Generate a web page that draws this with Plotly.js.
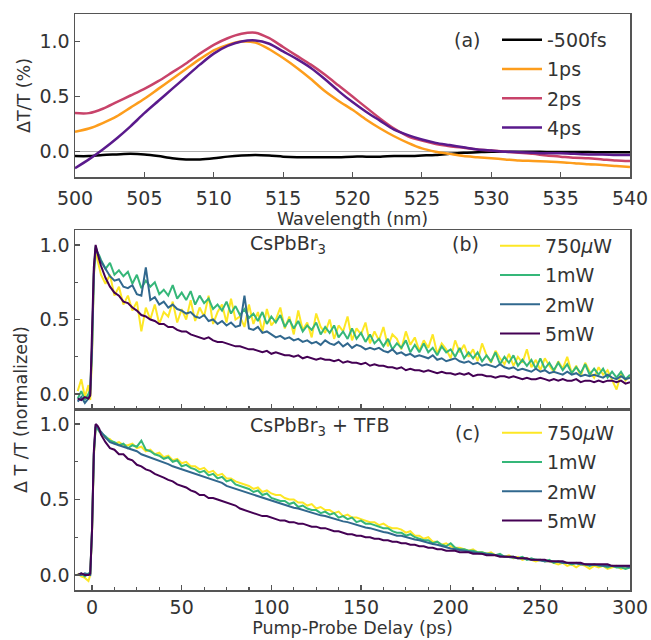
<!DOCTYPE html>
<html><head><meta charset="utf-8">
<script src="https://cdn.plot.ly/plotly-3.0.1.min.js"></script>
<style>html,body{margin:0;padding:0;background:#fff}</style>
</head><body><div id="chart" style="width:651px;height:640px"></div>
<script>
// ---------- Panel (a): spectra ----------
const wavelength = [500,501,502,503,504,505,506,507,508,509,
  510,511,512,513,514,515,516,517,518,519,
  520,521,522,523,524,525,526,527,528,529,
  530,531,532,533,534,535,536,537,538,539,540];
const dt_m500fs = [-0.04,-0.04,-0.03,-0.025,-0.02,-0.025,-0.04,-0.06,-0.07,-0.07,
  -0.06,-0.045,-0.035,-0.03,-0.035,-0.045,-0.05,-0.05,-0.05,-0.05,
  -0.045,-0.045,-0.045,-0.04,-0.04,-0.035,-0.03,-0.02,-0.01,-0.005,
  0.0,0.0,0.0,0.0,-0.002,-0.003,-0.004,-0.004,-0.005,-0.005,-0.005];
const dt_1ps = [0.18,0.21,0.26,0.32,0.40,0.48,0.57,0.66,0.75,0.84,
  0.92,0.97,1.0,0.99,0.93,0.85,0.76,0.66,0.55,0.46,
  0.38,0.29,0.21,0.14,0.08,0.03,0.0,-0.02,-0.04,-0.05,
  -0.06,-0.07,-0.08,-0.085,-0.09,-0.095,-0.105,-0.115,-0.12,-0.13,-0.14];
const dt_2ps = [0.35,0.35,0.39,0.45,0.51,0.57,0.64,0.72,0.80,0.89,
  0.97,1.03,1.07,1.08,1.03,0.95,0.87,0.79,0.70,0.60,
  0.50,0.40,0.30,0.21,0.14,0.10,0.07,0.05,0.035,0.02,
  0.01,0.0,-0.01,-0.02,-0.035,-0.045,-0.055,-0.06,-0.07,-0.08,-0.085];
const dt_4ps = [-0.15,-0.07,0.02,0.12,0.23,0.35,0.46,0.57,0.68,0.79,
  0.89,0.96,1.0,1.01,0.98,0.91,0.84,0.76,0.66,0.55,
  0.45,0.36,0.28,0.20,0.15,0.11,0.08,0.06,0.04,0.02,
  0.01,0.0,-0.005,-0.01,-0.015,-0.015,-0.02,-0.025,-0.025,-0.03,-0.03];
const spectraNames = ['-500fs','1ps','2ps','4ps'];

// ---------- Panels (b),(c): kinetics ----------
const delay = [-8,-6,-4,-2,-1,0,1,2,3,4,5,
  7.5,10,12.5,15,17.5,20,22.5,25,27.5,30,
  32.5,35,37.5,40,42.5,45,47.5,50,52.5,55,
  57.5,60,62.5,65,67.5,70,72.5,75,77.5,80,
  82.5,85,87.5,90,92.5,95,97.5,100,102.5,105,
  107.5,110,112.5,115,117.5,120,122.5,125,127.5,130,
  132.5,135,137.5,140,142.5,145,147.5,150,152.5,155,
  157.5,160,162.5,165,167.5,170,172.5,175,177.5,180,
  182.5,185,187.5,190,192.5,195,197.5,200,202.5,205,
  207.5,210,212.5,215,217.5,220,222.5,225,227.5,230,
  232.5,235,237.5,240,242.5,245,247.5,250,252.5,255,
  257.5,260,262.5,265,267.5,270,272.5,275,277.5,280,
  282.5,285,287.5,290,292.5,295,297.5,300];

const b_750uW = [0.02,0.10,-0.02,0.06,-0.04,0.25,0.78,0.97,0.90,0.85,0.80,
  0.74,0.80,0.66,0.72,0.60,0.66,0.56,0.62,0.42,0.58,
  0.50,0.60,0.47,0.55,0.52,0.62,0.48,0.57,0.50,0.63,
  0.49,0.58,0.52,0.66,0.47,0.55,0.60,0.48,0.64,0.50,
  0.52,0.45,0.60,0.47,0.55,0.42,0.57,0.46,0.50,0.58,
  0.44,0.52,0.40,0.56,0.43,0.48,0.38,0.54,0.45,0.41,
  0.50,0.37,0.46,0.42,0.52,0.36,0.44,0.40,0.48,0.34,
  0.42,0.36,0.45,0.32,0.40,0.37,0.30,0.42,0.33,0.38,
  0.29,0.36,0.31,0.40,0.27,0.34,0.30,0.24,0.36,0.28,
  0.33,0.25,0.30,0.22,0.34,0.26,0.21,0.29,0.24,0.20,
  0.27,0.19,0.25,0.21,0.30,0.18,0.23,0.16,0.24,0.19,
  0.15,0.22,0.17,0.25,0.14,0.19,0.12,0.21,0.15,0.11,
  0.18,0.13,0.16,0.10,0.03,0.14,0.09,0.12];
const b_1mW = [-0.03,0.02,-0.04,0.00,0.03,0.32,0.82,0.99,0.95,0.93,0.90,
  0.84,0.88,0.80,0.83,0.79,0.82,0.74,0.80,0.71,0.76,
  0.72,0.75,0.67,0.70,0.66,0.73,0.64,0.68,0.63,0.69,
  0.60,0.66,0.61,0.64,0.57,0.60,0.56,0.62,0.54,0.59,
  0.53,0.57,0.51,0.54,0.49,0.55,0.47,0.52,0.48,0.53,
  0.45,0.50,0.44,0.49,0.42,0.46,0.43,0.48,0.40,0.45,
  0.41,0.46,0.38,0.42,0.37,0.44,0.37,0.41,0.35,0.40,
  0.34,0.37,0.32,0.37,0.30,0.34,0.31,0.36,0.28,0.33,
  0.28,0.34,0.28,0.31,0.26,0.32,0.28,0.30,0.25,0.31,
  0.24,0.28,0.24,0.28,0.22,0.26,0.22,0.28,0.20,0.25,
  0.21,0.26,0.19,0.23,0.19,0.23,0.17,0.24,0.17,0.21,
  0.16,0.21,0.16,0.20,0.14,0.18,0.14,0.20,0.13,0.17,
  0.13,0.17,0.11,0.15,0.11,0.15,0.10,0.13];
const b_2mW = [-0.05,-0.02,-0.06,-0.03,0.00,0.30,0.80,0.98,0.95,0.92,0.89,
  0.84,0.79,0.76,0.77,0.72,0.71,0.73,0.67,0.66,0.85,
  0.63,0.65,0.60,0.62,0.58,0.60,0.57,0.56,0.54,0.55,
  0.52,0.51,0.53,0.49,0.50,0.47,0.49,0.46,0.48,0.45,
  0.46,0.66,0.44,0.43,0.45,0.41,0.42,0.40,0.38,0.39,
  0.37,0.38,0.36,0.37,0.35,0.36,0.34,0.35,0.33,0.36,
  0.34,0.33,0.35,0.32,0.34,0.31,0.33,0.32,0.30,0.31,
  0.30,0.31,0.29,0.28,0.30,0.27,0.28,0.26,0.27,0.25,
  0.26,0.25,0.24,0.26,0.23,0.24,0.22,0.23,0.24,0.22,
  0.21,0.22,0.20,0.21,0.19,0.20,0.19,0.18,0.20,0.18,
  0.17,0.18,0.16,0.17,0.16,0.15,0.17,0.15,0.16,0.14,
  0.15,0.14,0.13,0.15,0.13,0.14,0.12,0.13,0.12,0.13,
  0.12,0.11,0.13,0.11,0.10,0.12,0.10,0.11];
const b_5mW = [-0.03,-0.04,-0.02,-0.03,-0.01,0.35,0.85,1.00,0.94,0.90,0.86,
  0.78,0.72,0.68,0.66,0.62,0.61,0.58,0.56,0.53,0.52,
  0.50,0.49,0.47,0.47,0.45,0.45,0.43,0.42,0.42,0.40,
  0.39,0.38,0.37,0.38,0.36,0.35,0.35,0.34,0.33,0.32,
  0.32,0.31,0.30,0.30,0.29,0.28,0.29,0.27,0.28,0.27,
  0.26,0.26,0.25,0.26,0.24,0.25,0.24,0.23,0.24,0.23,
  0.23,0.22,0.23,0.21,0.22,0.21,0.21,0.20,0.21,0.19,
  0.20,0.19,0.19,0.18,0.18,0.17,0.18,0.16,0.17,0.16,
  0.16,0.15,0.16,0.15,0.14,0.15,0.14,0.14,0.13,0.14,
  0.13,0.14,0.12,0.13,0.13,0.12,0.12,0.11,0.12,0.12,
  0.11,0.12,0.11,0.10,0.11,0.10,0.10,0.11,0.10,0.09,
  0.10,0.09,0.10,0.09,0.09,0.10,0.08,0.09,0.09,0.08,
  0.09,0.08,0.09,0.09,0.08,0.09,0.07,0.08];

const c_750uW = [0.01,-0.01,-0.02,-0.04,0.00,0.28,0.78,0.98,0.97,0.96,0.94,
  0.91,0.90,0.87,0.88,0.86,0.86,0.87,0.84,0.85,0.82,
  0.83,0.80,0.81,0.78,0.79,0.76,0.77,0.74,0.75,0.72,
  0.72,0.70,0.71,0.68,0.69,0.66,0.67,0.64,0.64,0.62,
  0.61,0.60,0.59,0.57,0.58,0.55,0.56,0.54,0.53,0.53,
  0.51,0.50,0.50,0.48,0.48,0.46,0.47,0.44,0.45,0.43,
  0.43,0.41,0.42,0.39,0.40,0.38,0.38,0.37,0.36,0.35,
  0.35,0.33,0.34,0.32,0.31,0.31,0.30,0.28,0.29,0.26,
  0.26,0.24,0.25,0.22,0.22,0.20,0.21,0.19,0.18,0.18,
  0.17,0.16,0.17,0.15,0.15,0.14,0.15,0.13,0.13,0.12,
  0.13,0.11,0.12,0.10,0.11,0.10,0.09,0.10,0.09,0.09,
  0.08,0.07,0.08,0.06,0.07,0.05,0.07,0.06,0.04,0.06,
  0.05,0.06,0.04,0.05,0.06,0.04,0.05,0.05];
const c_1mW = [0.00,0.01,-0.01,0.01,0.00,0.30,0.80,0.98,0.97,0.95,0.94,
  0.92,0.89,0.88,0.86,0.87,0.84,0.86,0.85,0.89,0.83,
  0.82,0.80,0.79,0.77,0.78,0.75,0.76,0.72,0.73,0.71,
  0.70,0.68,0.69,0.66,0.67,0.64,0.65,0.62,0.63,0.60,
  0.59,0.58,0.57,0.55,0.56,0.53,0.54,0.51,0.50,0.49,
  0.49,0.47,0.48,0.45,0.46,0.44,0.43,0.43,0.41,0.42,
  0.40,0.41,0.38,0.39,0.37,0.38,0.35,0.36,0.34,0.34,
  0.33,0.32,0.31,0.31,0.29,0.28,0.28,0.26,0.27,0.25,
  0.24,0.23,0.23,0.21,0.22,0.20,0.19,0.21,0.18,0.17,
  0.17,0.16,0.16,0.15,0.15,0.14,0.14,0.13,0.14,0.12,
  0.12,0.12,0.11,0.12,0.10,0.11,0.10,0.10,0.09,0.10,
  0.08,0.09,0.08,0.08,0.07,0.08,0.07,0.07,0.06,0.07,
  0.06,0.06,0.05,0.06,0.05,0.05,0.04,0.05];
const c_2mW = [0.00,0.00,0.01,0.00,0.00,0.30,0.80,0.99,0.98,0.96,0.95,
  0.91,0.88,0.87,0.86,0.85,0.845,0.83,0.82,0.80,0.79,
  0.78,0.77,0.76,0.745,0.735,0.72,0.71,0.70,0.69,0.68,
  0.67,0.66,0.65,0.64,0.63,0.62,0.61,0.59,0.58,0.57,
  0.56,0.55,0.54,0.53,0.52,0.51,0.50,0.49,0.48,0.47,
  0.46,0.455,0.445,0.44,0.43,0.42,0.41,0.40,0.395,0.39,
  0.38,0.37,0.36,0.355,0.35,0.34,0.33,0.32,0.315,0.31,
  0.30,0.29,0.285,0.28,0.27,0.26,0.26,0.25,0.24,0.235,
  0.23,0.22,0.21,0.205,0.20,0.19,0.185,0.175,0.17,0.165,
  0.16,0.155,0.15,0.145,0.14,0.14,0.135,0.13,0.125,0.12,
  0.12,0.115,0.11,0.11,0.105,0.10,0.10,0.095,0.09,0.09,
  0.085,0.085,0.08,0.08,0.075,0.075,0.07,0.07,0.065,0.065,
  0.065,0.06,0.06,0.06,0.055,0.055,0.055,0.05];
const c_5mW = [0.00,0.01,0.00,0.00,0.01,0.30,0.82,1.00,0.99,0.97,0.93,
  0.88,0.84,0.83,0.80,0.80,0.77,0.76,0.73,0.72,0.70,
  0.69,0.67,0.66,0.645,0.63,0.62,0.60,0.59,0.58,0.56,
  0.55,0.53,0.53,0.51,0.51,0.50,0.49,0.48,0.47,0.46,
  0.44,0.43,0.42,0.41,0.40,0.39,0.39,0.38,0.37,0.36,
  0.36,0.35,0.35,0.34,0.34,0.33,0.32,0.32,0.31,0.31,
  0.30,0.29,0.29,0.28,0.27,0.27,0.26,0.26,0.25,0.25,
  0.24,0.24,0.23,0.23,0.22,0.22,0.21,0.21,0.20,0.20,
  0.19,0.19,0.18,0.18,0.17,0.17,0.16,0.16,0.16,0.15,
  0.15,0.15,0.14,0.14,0.14,0.13,0.13,0.13,0.12,0.12,
  0.12,0.12,0.11,0.11,0.11,0.10,0.10,0.10,0.10,0.09,
  0.09,0.09,0.09,0.08,0.08,0.08,0.08,0.07,0.07,0.07,
  0.07,0.07,0.07,0.06,0.06,0.06,0.06,0.06];
const powerNames = ['750<i>μ</i>W','1mW','2mW','5mW'];

// ---------- styling ----------
const FONT = 'DejaVu Sans, sans-serif';
const TXT = '#333';
const specColors = ['#000000','#fd9d1c','#c8436a','#5a1a8c'];
const powColors = ['#fde725','#35b779','#31688e','#440154'];

const traces = [];
[dt_m500fs, dt_1ps, dt_2ps, dt_4ps].forEach((y,i)=>{
  traces.push({x: wavelength, y: y, type:'scatter', mode:'lines', name: spectraNames[i],
    line:{color: specColors[i], width: 2.5, shape:'spline', smoothing:0.8},
    xaxis:'x', yaxis:'y', legend:'legend', legendgroup:'a'+i});
});
[b_750uW, b_1mW, b_2mW, b_5mW].forEach((y,i)=>{
  traces.push({x: delay, y: y, type:'scatter', mode:'lines', name: powerNames[i],
    line:{color: powColors[i], width: 2},
    xaxis:'x2', yaxis:'y2', legend:'legend2', legendgroup:'b'+i});
});
[c_750uW, c_1mW, c_2mW, c_5mW].forEach((y,i)=>{
  traces.push({x: delay, y: y, type:'scatter', mode:'lines', name: powerNames[i],
    line:{color: powColors[i], width: 2},
    xaxis:'x3', yaxis:'y3', legend:'legend3', legendgroup:'c'+i});
});

const XD = [75/651, 630/651];
const axBase = {showline:true, mirror:true, linecolor:'#555', linewidth:1.5,
  ticks:'inside', ticklen:5, tickwidth:1.2, tickcolor:'#555', showgrid:false, zeroline:false,
  tickfont:{family:FONT, size:19, color:TXT}, automargin:false};
const legBase = {bgcolor:'rgba(0,0,0,0)', font:{family:FONT, size:19, color:TXT},
  xanchor:'left', yanchor:'top', tracegroupgap:1.5, itemwidth:40};
const TF = {family:FONT, size:17.5, color:TXT};

const layout = {
  width:651, height:640, margin:{l:0,r:0,t:0,b:0},
  paper_bgcolor:'#fff', plot_bgcolor:'#fff', font:{family:FONT, color:TXT},
  xaxis: Object.assign({}, axBase, {domain:XD, anchor:'y', range:[500,540], dtick:5, tick0:500,
    ticklabelstandoff:4, title:{text:'Wavelength (nm)', font:TF, standoff:1}}),
  yaxis: Object.assign({}, axBase, {domain:[1-177/640, 1-14/640], anchor:'x', range:[-0.23,1.25],
    dtick:0.5, tick0:0, tickformat:'.1f', zeroline:true, zerolinecolor:'#b0b0b0', zerolinewidth:1,
    title:{text:'ΔT/T (%)', font:TF, standoff:4}}),
  xaxis2: Object.assign({}, axBase, {domain:XD, anchor:'y2', range:[-9.5,300], dtick:50, tick0:0,
    showticklabels:false, minor:{dtick:12.5, tick0:0, ticks:'inside', ticklen:3, tickcolor:'#555'}}),
  yaxis2: Object.assign({}, axBase, {domain:[1-409/640, 1-230/640], anchor:'x2', range:[-0.1,1.1],
    dtick:0.5, tick0:0, tickformat:'.1f', minor:{dtick:0.25, tick0:0, ticks:'inside', ticklen:3, tickcolor:'#555'}}),
  xaxis3: Object.assign({}, axBase, {domain:XD, anchor:'y3', range:[-9.5,300], dtick:50, tick0:0,
    minor:{dtick:12.5, tick0:0, ticks:'inside', ticklen:3, tickcolor:'#555'},
    title:{text:'Pump-Probe Delay (ps)', font:TF, standoff:0}}),
  yaxis3: Object.assign({}, axBase, {domain:[1-590/640, 1-409/640], anchor:'x3', range:[-0.1,1.1],
    dtick:0.5, tick0:0, tickformat:'.1f', minor:{dtick:0.25, tick0:0, ticks:'inside', ticklen:3, tickcolor:'#555'}}),
  legend: Object.assign({}, legBase, {x:497/651, y:1-21/640}),
  legend2: Object.assign({}, legBase, {x:495/651, y:1-227/640}),
  legend3: Object.assign({}, legBase, {x:497/651, y:1-414/640}),
  annotations:[
    {text:'(a)', xref:'paper', yref:'paper', x:467/651, y:1-40/640, xanchor:'center', yanchor:'middle', showarrow:false, font:{family:FONT,size:19,color:TXT}},
    {text:'(b)', xref:'paper', yref:'paper', x:465/651, y:1-244/640, xanchor:'center', yanchor:'middle', showarrow:false, font:{family:FONT,size:19,color:TXT}},
    {text:'(c)', xref:'paper', yref:'paper', x:467/651, y:1-433/640, xanchor:'center', yanchor:'middle', showarrow:false, font:{family:FONT,size:19,color:TXT}},
    {text:'CsPbBr<sub>3</sub>', xref:'paper', yref:'paper', x:248/651, y:1-244/640, xanchor:'left', yanchor:'middle', showarrow:false, font:{family:FONT,size:19,color:TXT}},
    {text:'CsPbBr<sub>3</sub> + TFB', xref:'paper', yref:'paper', x:248/651, y:1-426/640, xanchor:'left', yanchor:'middle', showarrow:false, font:{family:FONT,size:19,color:TXT}},
    {text:'Δ T /T (normalized)', xref:'paper', yref:'paper', x:21/651, y:1-410/640, xanchor:'center', yanchor:'middle', textangle:-90, showarrow:false, font:TF}
  ]
};

Plotly.newPlot('chart', traces, layout, {displayModeBar:false, staticPlot:true});
</script></body></html>
